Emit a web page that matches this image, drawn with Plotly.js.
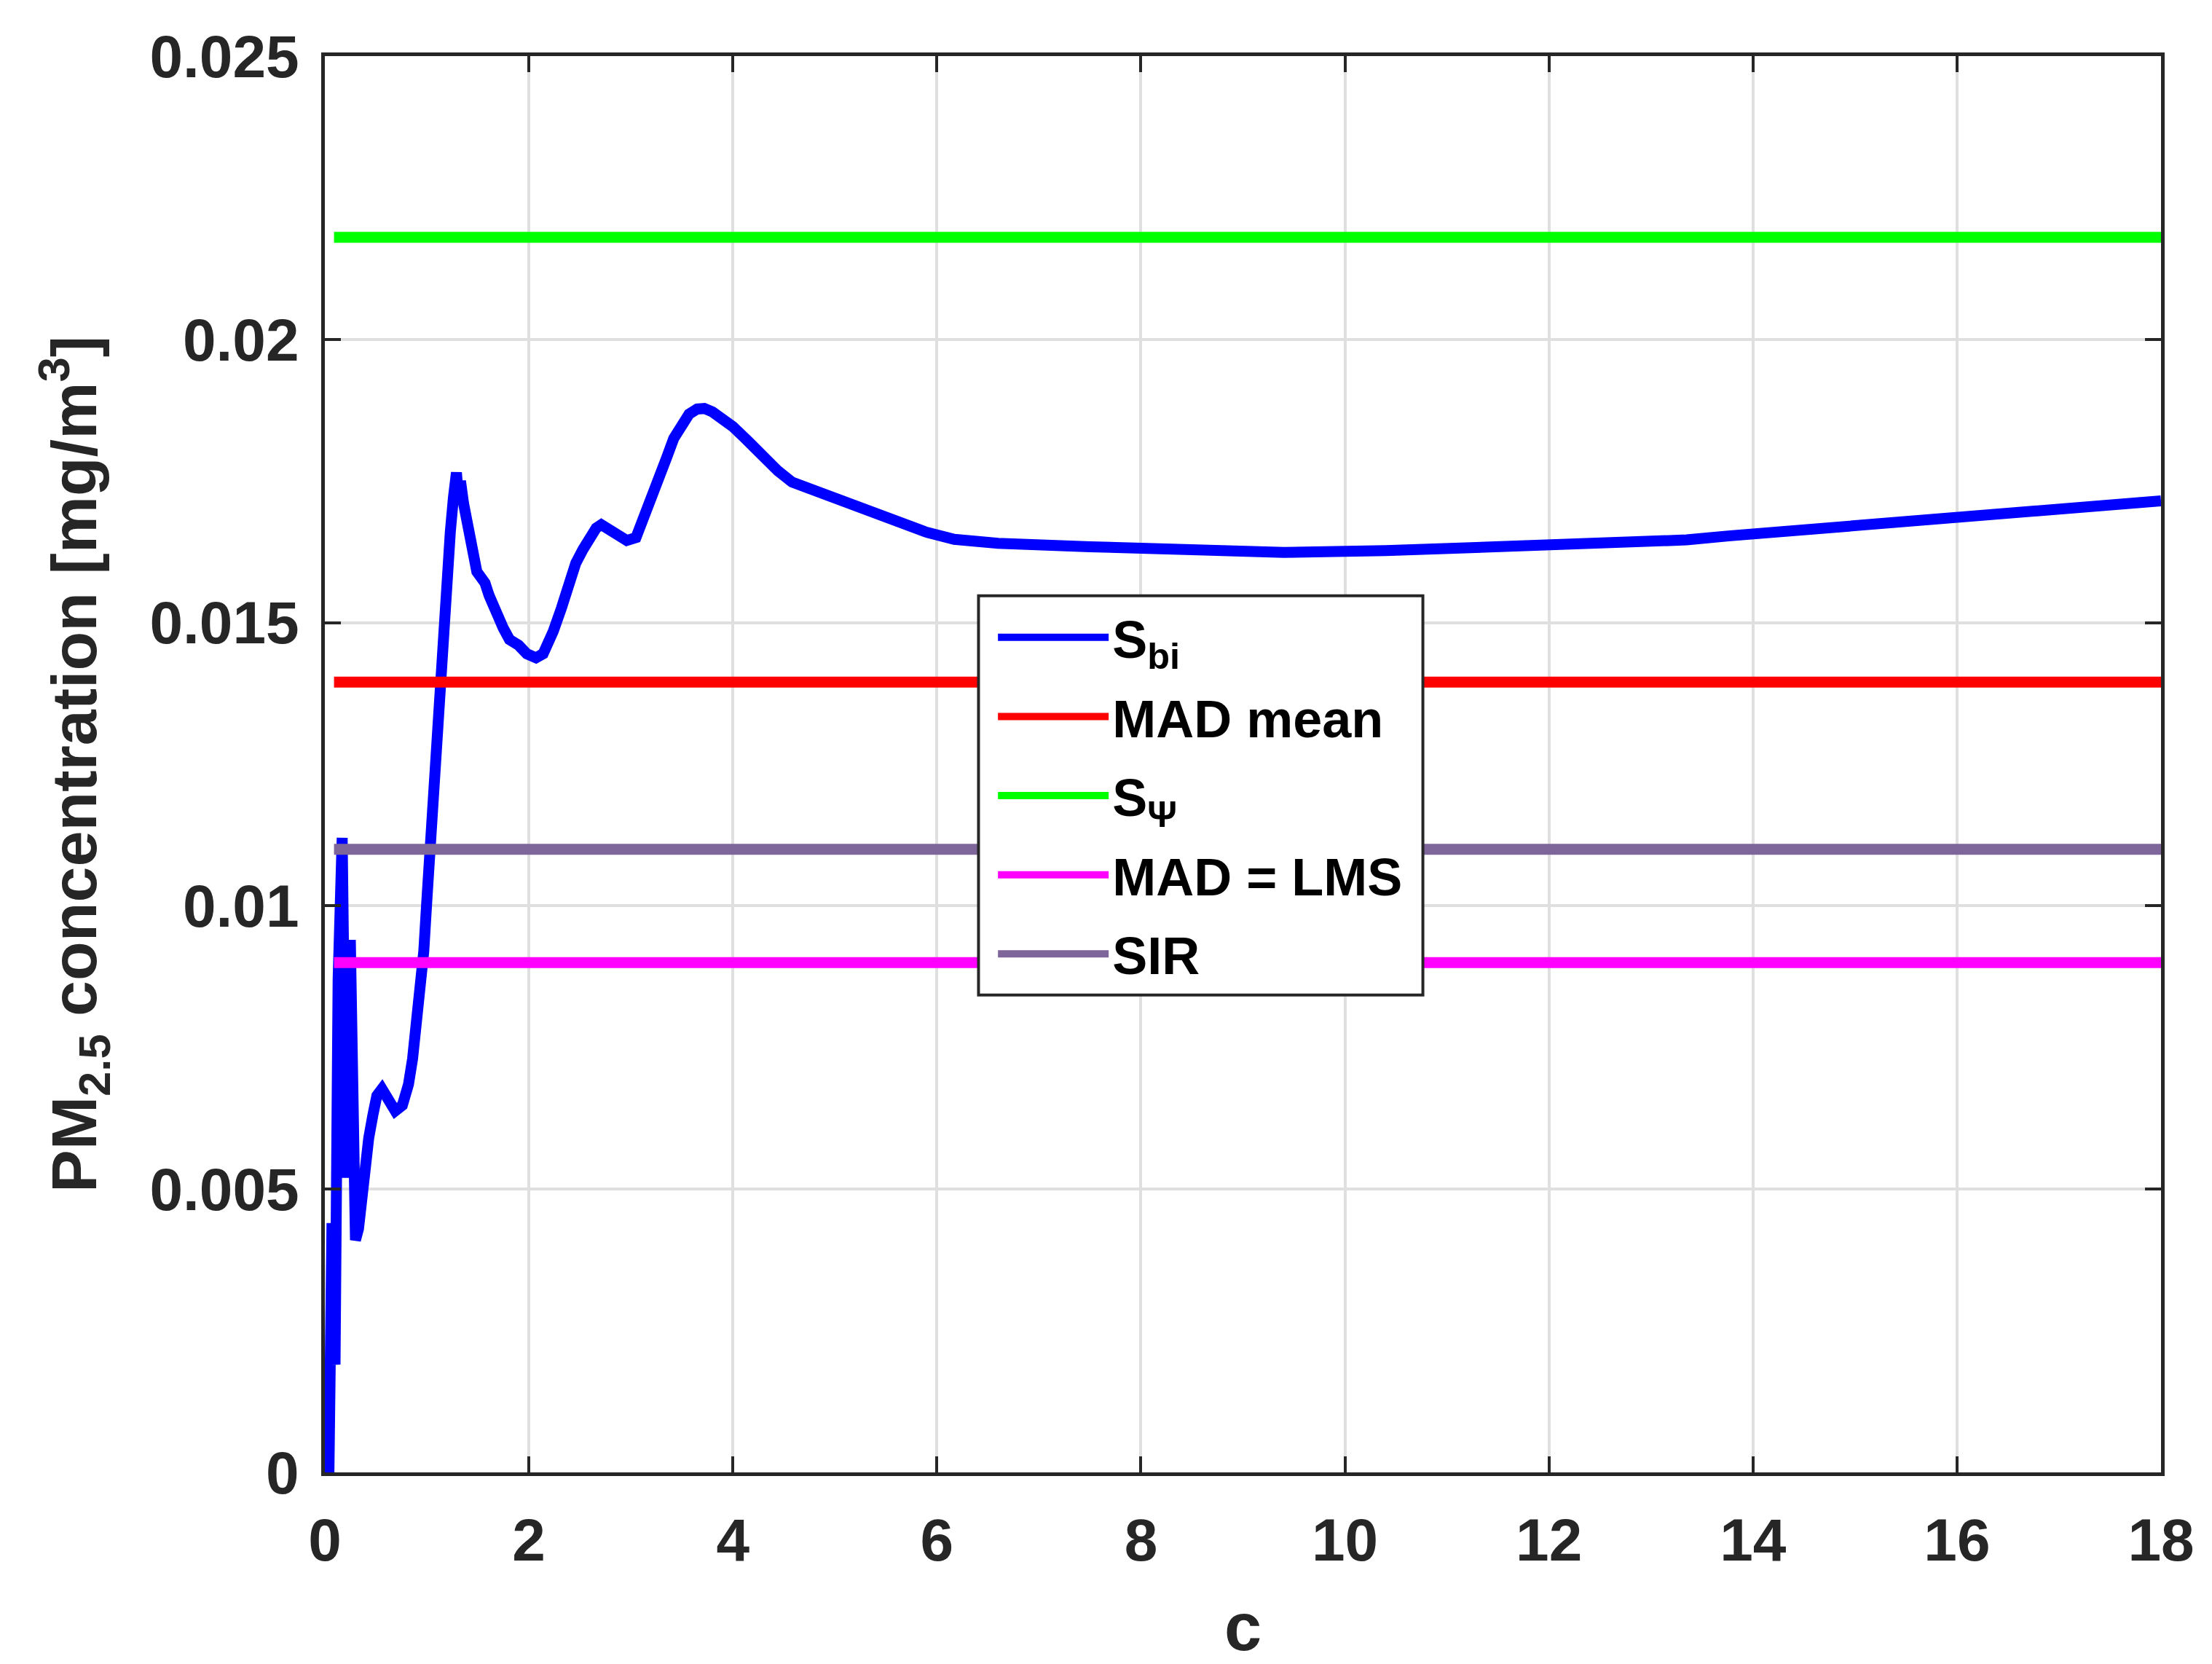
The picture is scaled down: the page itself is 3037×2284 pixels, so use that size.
<!DOCTYPE html>
<html>
<head>
<meta charset="utf-8">
<script src="https://cdn.plot.ly/plotly-3.0.1.min.js"></script>
<style>
    html, body { margin: 0; padding: 0; background: #ffffff; }
    #grafico { width: 3037px; height: 2284px; }
</style>
</head>
<body>
<div id="grafico"></div>
<script>
// curva S_bi en funcion de c
var cValues = [0.04, 0.07, 0.10, 0.13, 0.17, 0.21, 0.25, 0.30, 0.33, 0.36,
    0.40, 0.43, 0.47, 0.51, 0.56, 0.62, 0.69, 0.76, 0.82, 0.86,
    0.89, 0.93, 0.97, 1.00, 1.04, 1.08, 1.11, 1.15, 1.19, 1.23,
    1.26, 1.29, 1.31, 1.33, 1.36, 1.39, 1.42, 1.45, 1.49, 1.53,
    1.57, 1.61, 1.65, 1.70, 1.75, 1.81, 1.90, 1.98, 2.07, 2.14,
    2.20, 2.24, 2.32, 2.39, 2.46, 2.53, 2.59, 2.66, 2.71, 2.84,
    2.96, 3.05, 3.13, 3.20, 3.27, 3.35, 3.42, 3.50, 3.57, 3.65,
    3.72, 3.80, 3.90, 4.00, 4.15, 4.29, 4.44, 4.58, 4.81, 5.10,
    5.38, 5.67, 5.89, 6.17, 6.60, 7.50, 8.50, 9.40, 10.40, 11.50,
    12.50, 12.97, 13.35, 13.76, 14.23, 14.76, 15.29, 15.76, 16.24, 16.67,
    17.10, 17.46, 17.90, 18.00];

var sbiValues = [0.0000, 0.0044, 0.0019, 0.0087, 0.0112, 0.0052, 0.0094, 0.0041, 0.0043, 0.0049,
    0.00544, 0.0059, 0.0063, 0.00665, 0.00677, 0.00655, 0.00638, 0.00648, 0.00685, 0.0073,
    0.00776, 0.0085, 0.0092, 0.0101, 0.0113, 0.0125, 0.0136, 0.0147, 0.0159, 0.0166,
    0.0172, 0.01765, 0.0172, 0.0175, 0.0171, 0.0168, 0.01655, 0.0162, 0.0159, 0.0158,
    0.0157, 0.01548, 0.0153, 0.0150, 0.0149, 0.0147, 0.0146, 0.01445, 0.01438, 0.01445,
    0.01465, 0.01485, 0.01526, 0.01571, 0.01605, 0.01629, 0.0165, 0.01667, 0.01673, 0.01659,
    0.01645, 0.0165, 0.01685, 0.01725, 0.01758, 0.01791, 0.01825, 0.0185, 0.01868, 0.01877,
    0.01878, 0.01872, 0.0186, 0.01846, 0.0182, 0.01794, 0.01768, 0.01748, 0.01733, 0.01713,
    0.01693, 0.01674, 0.0166, 0.01647, 0.0164, 0.01634, 0.01628, 0.01624, 0.01627, 0.01633,
    0.01638, 0.0164, 0.01646, 0.01653, 0.0166, 0.01667, 0.01673, 0.0168, 0.01686, 0.01693,
    0.01699, 0.01706, 0.01713, 0.01715];

// estimadores constantes
var cRange = [0.09, 18];
var madMean = 0.01395;
var sPsi = 0.0218;
var madLms = 0.009;
var sir = 0.011;

var xTicks = [0, 2, 4, 6, 8, 10, 12, 14, 16, 18];
var yTicks = [0, 0.005, 0.01, 0.015, 0.02, 0.025];
var yTickLabels = ['0', '0.005', '0.01', '0.015', '0.02', '0.025'];

var fuente = 'Liberation Sans, Arial, sans-serif';
var gris = '#262626';

function lineaConstante(valor, nombre, color) {
    return {
        x: cRange,
        y: cRange.map(function () { return valor; }),
        mode: 'lines',
        type: 'scatter',
        name: nombre,
        legendgroup: nombre,
        line: { color: color, width: 15 }
    };
}

var curvaSbi = {
    x: cValues,
    y: sbiValues,
    mode: 'lines',
    type: 'scatter',
    name: 'S<sub>bi</sub>',
    legendgroup: 'sbi',
    line: { color: '#0000FF', width: 15 }
};

var data = [
    curvaSbi,
    lineaConstante(madMean, 'MAD mean', '#FF0000'),
    lineaConstante(sPsi, 'S<sub>Ψ</sub>', '#00FF00'),
    lineaConstante(madLms, 'MAD = LMS', '#FF00FF'),
    lineaConstante(sir, 'SIR', '#7E659A')
];

var ejeComun = {
    showline: true,
    linecolor: gris,
    linewidth: 5,
    mirror: 'ticks',
    ticks: 'inside',
    ticklen: 22,
    tickwidth: 4,
    tickcolor: gris,
    showgrid: true,
    gridcolor: '#DFDFDF',
    gridwidth: 4,
    zeroline: false,
    tickfont: { family: fuente, size: 82, weight: 'bold', color: gris }
};

var layout = {
    width: 3037,
    height: 2284,
    margin: { l: 446, r: 70, t: 77, b: 263 },
    paper_bgcolor: '#ffffff',
    plot_bgcolor: '#ffffff',
    showlegend: true,
    xaxis: Object.assign({}, ejeComun, {
        range: [0, 18],
        tickmode: 'array',
        tickvals: xTicks,
        ticklabelstandoff: 18,
        title: {
            text: 'c',
            standoff: 110,
            font: { family: fuente, size: 92, weight: 'bold', color: gris }
        }
    }),
    yaxis: Object.assign({}, ejeComun, {
        range: [0, 0.025],
        tickmode: 'array',
        tickvals: yTicks,
        ticktext: yTickLabels,
        ticklabelstandoff: 14,
        title: {
            text: 'PM<sub>2.5</sub> concentration [mg/m<sup>3</sup>]',
            standoff: 45,
            font: { family: fuente, size: 88, weight: 'bold', color: gris }
        }
    }),
    // caja de la leyenda (opaca, con borde)
    shapes: [{
        type: 'rect',
        xref: 'paper',
        yref: 'paper',
        x0: 0.356,
        x1: 0.598,
        y0: 0.337,
        y1: 0.619,
        layer: 'above',
        fillcolor: '#ffffff',
        line: { color: gris, width: 4 }
    }],
    legend: {
        x: 0.3646,
        y: 0.617,
        xanchor: 'left',
        yanchor: 'top',
        bgcolor: 'rgba(0,0,0,0)',
        borderwidth: 0,
        itemwidth: 152,
        tracegroupgap: 12,
        font: { family: fuente, size: 72, weight: 'bold', color: '#000000' }
    }
};

Plotly.newPlot('grafico', data, layout, { staticPlot: true });
</script>
</body>
</html>
